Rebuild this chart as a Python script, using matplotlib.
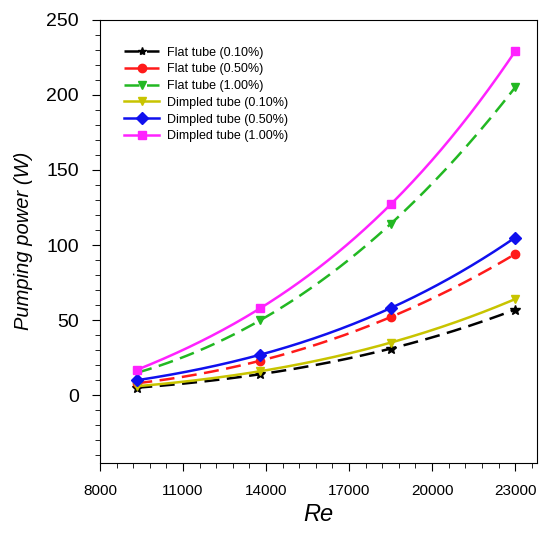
import numpy as np
import matplotlib
matplotlib.use("Agg")
import matplotlib.pyplot as plt
from matplotlib.ticker import MultipleLocator

plt.rcParams['font.family'] = ['Liberation Sans', 'DejaVu Sans']

re_vals = [9350, 13800, 18500, 23000]
flat_010 = [5, 14, 31, 57]
flat_050 = [8, 23, 52, 94]
flat_100 = [15, 50, 114, 205]
dimp_010 = [6, 16, 35, 64]
dimp_050 = [10, 27, 58, 105]
dimp_100 = [17, 58, 127, 229]
x_ticks = [8000, 11000, 14000, 17000, 20000, 23000]

series = [
    ("Flat tube (0.10%)", flat_010, "black", "*", (0, (6, 3))),
    ("Flat tube (0.50%)", flat_050, "#ff1a1a", "o", (0, (6, 3))),
    ("Flat tube (1.00%)", flat_100, "#22b822", "v", (0, (6, 3))),
    ("Dimpled tube (0.10%)", dimp_010, "#c8c400", "v", "-"),
    ("Dimpled tube (0.50%)", dimp_050, "#1010ee", "D", "-"),
    ("Dimpled tube (1.00%)", dimp_100, "#ff22ff", "s", "-"),
]

fig = plt.figure(figsize=(5.4, 5.35), dpi=100)
ax = fig.add_axes([0.185, 0.135, 0.81, 0.828])

x = np.array(re_vals, dtype=float)
xs = np.linspace(x.min(), x.max(), 200)
for label, y, c, m, ls in series:
    coef = np.polyfit(x, np.array(y, dtype=float), 3)
    ax.plot(xs, np.polyval(coef, xs), color=c, ls=ls, lw=1.8)
    ax.plot(x, y, ls='none', marker=m, color=c, ms=6 if m != "*" else 7)
    ax.plot([], [], color=c, ls=ls, lw=1.8, marker=m, ms=6, label=label)

ax.set_xlim(8000, 23800)
ax.set_ylim(-45, 250)
ax.set_xticks(x_ticks)
ax.set_xticks(np.arange(8000, 23801, 600), minor=True)
ax.yaxis.set_major_locator(MultipleLocator(50))
ax.yaxis.set_minor_locator(MultipleLocator(10))
ax.tick_params(which='major', direction='out', length=6)
ax.tick_params(which='minor', direction='out', length=3.5)
ax.tick_params(axis='x', which='major', labelsize=11, pad=9)
ax.tick_params(axis='y', which='major', labelsize=14, pad=9)
ax.set_xlabel("Re", fontstyle='italic', fontsize=17, labelpad=4)
ax.set_ylabel("Pumping power (W)", fontstyle='italic', fontsize=14.5, labelpad=10)

ax.legend(loc='upper left', bbox_to_anchor=(0.03, 0.965), frameon=False,
          fontsize=9, handlelength=2.8, labelspacing=0.38, handletextpad=0.6)

fig.savefig("out.png", dpi=100)
